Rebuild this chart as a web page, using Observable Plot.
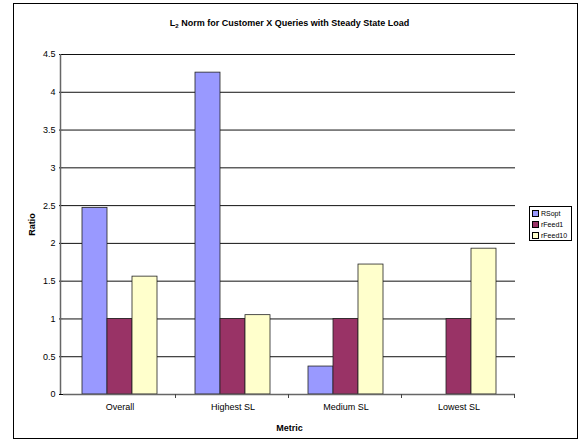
<!DOCTYPE html>
<html><head><meta charset="utf-8">
<script src="https://cdn.jsdelivr.net/npm/d3@7"></script>
<script src="https://cdn.jsdelivr.net/npm/@observablehq/plot@0.6"></script>
<style>
html,body{margin:0;padding:0;background:#fff;}
#wrap{position:relative;width:579px;height:445px;font-family:"Liberation Sans",Arial,sans-serif;}
#border{position:absolute;left:13px;top:3px;width:563px;height:434px;border:1px solid #000;}
#title{position:absolute;left:0;top:18px;width:579px;text-align:center;font-size:9px;font-weight:bold;color:#000;}
#title sub{font-size:6px;vertical-align:-2px;line-height:0;}
#chart{position:absolute;left:0;top:40px;}
#legend{position:absolute;left:529px;top:206px;width:41px;height:33px;border:1px solid #000;font-size:7px;color:#000;background:#fff;}
#legend div{display:flex;align-items:center;height:10px;margin-left:2px;margin-top:1px;}
#legend span.sw{display:inline-block;width:5px;height:5px;border:1px solid #000;margin-right:2px;}
</style></head>
<body><div id="wrap">
<div id="border"></div>
<div id="title">L<sub>2</sub> Norm for Customer X Queries with Steady State Load</div>
<div id="chart"></div>
<div id="legend"></div>
</div>
<script>
const categories = ["Overall", "Highest SL", "Medium SL", "Lowest SL"];
const series = ["RSopt", "rFeed1", "rFeed10"];
const rsopt = [2.47, 4.26, 0.37, 0];
const rfeed1 = [1, 1, 1, 1];
const rfeed10 = [1.56, 1.05, 1.72, 1.93];
const yTicks = [0, 0.5, 1, 1.5, 2, 2.5, 3, 3.5, 4, 4.5];
const colors = ["#9999FF", "#993366", "#FFFFCC"];

const seriesValues = [rsopt, rfeed1, rfeed10];
const data = [];
categories.forEach((c, i) => series.forEach((s, j) => data.push({category: c, series: s, value: seriesValues[j][i]})));

const plot = Plot.plot({
  width: 530, height: 400,
  marginLeft: 61, marginRight: 14, marginTop: 14, marginBottom: 46,
  style: {fontFamily: "'Liberation Sans', Arial, sans-serif", fontSize: "9px", color: "#000", background: "transparent"},
  fx: {domain: categories, padding: 0, label: "Metric", labelAnchor: "center", labelOffset: 36, tickSize: 0, tickPadding: 9},
  x: {domain: series, axis: null, paddingInner: 0, paddingOuter: 0.72},
  y: {domain: [0, 4.5], ticks: yTicks, tickFormat: d => `${d}`, tickSize: 4, tickPadding: 4, label: "Ratio", labelArrow: false, labelAnchor: "center", labelOffset: 35},
  color: {domain: series, range: colors},
  marks: [
    Plot.ruleY(yTicks.slice(1), {stroke: "#111", strokeWidth: 1}),
    Plot.barY(data, {fx: "category", x: "series", y: "value", fill: "series", stroke: "#222", strokeWidth: 0.8}),
    Plot.ruleY([0], {stroke: "#666", strokeWidth: 1.5})
  ]
});
document.getElementById("chart").appendChild(plot);

const svg = d3.select(plot.tagName.toLowerCase() === "svg" ? plot : plot.querySelector("svg"));
svg.selectAll("[aria-label='fx-axis label'], [aria-label='y-axis label']").style("font-weight", "bold");
svg.selectAll("[aria-label='y-axis label'] text").each(function() {
  this.textContent = this.textContent.replace(/[↑↓←→]/g, "").trim();
});
const ys = plot.scale("y");
const fxs = plot.scale("fx");
const y0 = ys.apply(0), y1 = ys.apply(4.5);
const x0 = fxs.range[0];
svg.append("line").attr("x1", x0 - 0.5).attr("x2", x0 - 0.5).attr("y1", y1).attr("y2", y0).attr("stroke", "#666").attr("stroke-width", 1.5);
categories.forEach(c => {
  const xb = Math.round(fxs.apply(c) + fxs.step) - 0.5;
  svg.append("line").attr("x1", xb).attr("x2", xb).attr("y1", y0).attr("y2", y0 + 4).attr("stroke", "#444").attr("stroke-width", 1);
});

const legend = d3.select("#legend");
series.forEach((s, i) => {
  const row = legend.append("div");
  row.append("span").attr("class", "sw").style("background", colors[i]);
  row.append("span").text(s);
});
</script>
</body></html>
